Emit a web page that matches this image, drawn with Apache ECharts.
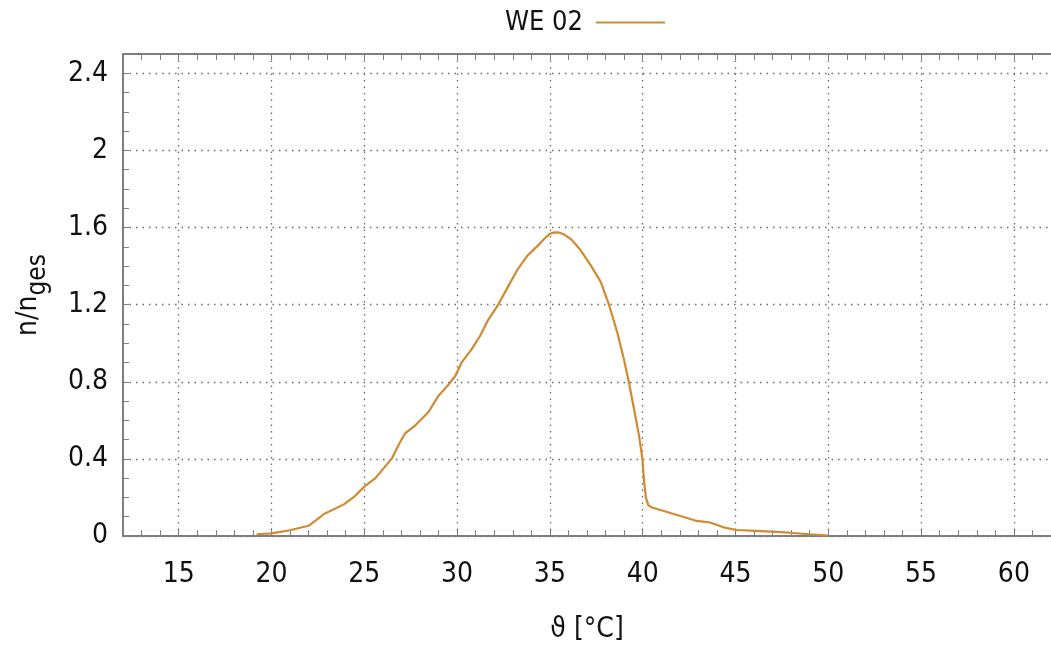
<!DOCTYPE html>
<html>
<head>
<meta charset="utf-8">
<script src="https://cdn.jsdelivr.net/npm/echarts@6/dist/echarts.min.js"></script>
<style>
html,body{margin:0;padding:0;background:#fff;}
#chart{width:1051px;height:649px;}
</style>
</head>
<body>
<div id="chart"></div>
<script>
const seriesName = 'WE 02';
const temperature = [19.2, 20.0, 21.0, 22.0, 22.6, 22.8, 23.9, 24.5, 25.0, 25.6, 26.05, 26.5, 26.94, 27.2, 27.75, 28.46, 29.0, 29.5, 29.9, 30.24, 30.78, 31.23, 31.67, 32.2, 32.74, 33.28, 33.8, 34.35, 34.7, 34.98, 35.25, 35.5, 35.8, 36.13, 36.4, 36.67, 37.2, 37.74, 38.19, 38.64, 38.99, 39.26, 39.53, 39.8, 39.98, 40.07, 40.17, 40.3, 40.5, 41.14, 42.03, 42.92, 43.63, 44.35, 45.06, 46.13, 47.9, 48.99, 49.97];
const ratio = [0.009, 0.014, 0.03, 0.053, 0.096, 0.113, 0.164, 0.207, 0.256, 0.30, 0.352, 0.404, 0.489, 0.532, 0.574, 0.643, 0.728, 0.78, 0.83, 0.899, 0.968, 1.036, 1.12, 1.198, 1.292, 1.386, 1.455, 1.506, 1.542, 1.566, 1.575, 1.574, 1.562, 1.54, 1.512, 1.48, 1.404, 1.318, 1.198, 1.053, 0.916, 0.796, 0.66, 0.523, 0.404, 0.29, 0.2, 0.16, 0.148, 0.13, 0.104, 0.078, 0.07, 0.045, 0.031, 0.027, 0.017, 0.009, 0.002];
const xTickLabels = ['15', '20', '25', '30', '35', '40', '45', '50', '55', '60'];
const yTickLabels = ['0', '0.4', '0.8', '1.2', '1.6', '2', '2.4'];

const FONT = '"Liberation Sans Narrow", "DejaVu Sans Condensed", "DejaVu Sans", sans-serif';
const AXIS_COLOR = '#7f7f7f';
const GRID_COLOR = '#6a6a6a';
const T = 'rgba(0,0,0,0)';

const points = temperature.map((t, i) => [t, ratio[i]]);

function xLabel(v) {
  const s = String(Math.round(v));
  return xTickLabels.indexOf(s) >= 0 && Math.abs(v - Math.round(v)) < 1e-6 ? s : '';
}
function yLabel(v) {
  const s = String(Math.round(v * 10) / 10);
  return yTickLabels.indexOf(s) >= 0 ? s : '';
}

const chart = echarts.init(document.getElementById('chart'), null, {renderer: 'canvas'});
chart.setOption({
  animation: false,
  backgroundColor: '#fff',
  textStyle: {fontFamily: FONT},
  legend: {
    left: 500, top: 4,
    align: 'right',
    icon: 'rect',
    itemWidth: 69, itemHeight: 2,
    textStyle: {fontFamily: FONT, fontSize: 27, color: '#111', padding: [0, 8, 0, 0]},
    data: [{name: seriesName}]
  },
  grid: {left: 123, right: -6, top: 54, bottom: 107, containLabel: false},
  xAxis: [{
    type: 'value', min: 12, max: 62, interval: 1,
    position: 'bottom',
    name: 'ϑ [°C]', nameLocation: 'middle', nameGap: 80,
    nameTextStyle: {fontFamily: FONT, fontSize: 28, color: '#111'},
    axisLine: {show: true, onZero: false, lineStyle: {color: AXIS_COLOR, width: 2}},
    axisTick: {show: true, inside: true, length: 6, lineStyle: {color: AXIS_COLOR, width: 1}},
    axisLabel: {formatter: xLabel, fontFamily: FONT, fontSize: 28, color: '#111', margin: 25, showMinLabel: false, showMaxLabel: false},
    splitLine: {show: true, lineStyle: {color: [T, T, T, GRID_COLOR, T], type: [1.5, 5], width: 1.3}}
  }, {
    type: 'value', min: 12, max: 62, interval: 1,
    position: 'top',
    axisLine: {show: true, onZero: false, lineStyle: {color: AXIS_COLOR, width: 2}},
    axisTick: {show: true, inside: true, length: 6, lineStyle: {color: AXIS_COLOR, width: 1}},
    axisLabel: {show: false},
    splitLine: {show: false}
  }],
  yAxis: [{
    type: 'value', min: 0, max: 2.5, interval: 0.1,
    name: '{a|n/n}{b|ges}', nameLocation: 'middle', nameGap: 80, nameRotate: 90,
    nameTextStyle: {
      rich: {
        a: {fontFamily: FONT, fontSize: 28, color: '#111', verticalAlign: 'bottom', lineHeight: 34},
        b: {fontFamily: FONT, fontSize: 26, color: '#111', verticalAlign: 'bottom', lineHeight: 34, padding: [0, 0, -8, 0]}
      }
    },
    axisLine: {show: true, onZero: false, lineStyle: {color: AXIS_COLOR, width: 2}},
    axisTick: {show: true, inside: true, length: 6, lineStyle: {color: AXIS_COLOR, width: 1}},
    axisLabel: {formatter: yLabel, fontFamily: FONT, fontSize: 28, color: '#111', margin: 15, showMaxLabel: false},
    splitLine: {show: true, lineStyle: {color: [GRID_COLOR, T, T, T], type: [1.5, 5], width: 1.3}}
  }],
  series: [{
    name: seriesName,
    type: 'line',
    xAxisIndex: 0, yAxisIndex: 0,
    data: points,
    showSymbol: false,
    smooth: false,
    lineStyle: {color: '#d08a30', width: 2.2},
    itemStyle: {color: '#d08a30'}
  }]
});
</script>
</body>
</html>
